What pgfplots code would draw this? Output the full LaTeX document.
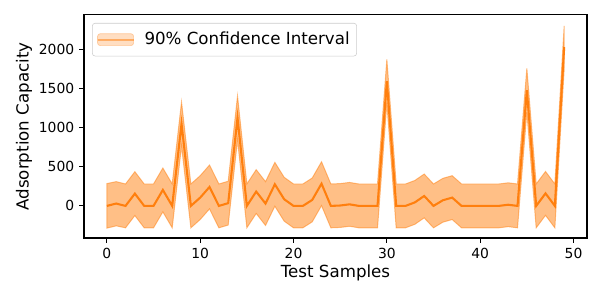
\documentclass[border=0pt]{standalone}
\usepackage{pgfplots}
\pgfplotsset{compat=1.18}
\usepackage{fontspec}
\setmainfont{DejaVu Sans}
\definecolor{mplorange}{RGB}{255,127,14}
\begin{document}
\begin{tikzpicture}
\begin{axis}[
  scale only axis,
  width=362.2pt, height=160.6pt,
  xmin=-2.45, xmax=51.45,
  ymin=-410, ymax=2440,
  xtick={0,10,20,30,40,50},
  ytick={0,500,1000,1500,2000},
  tick align=outside,
  major tick length=3.5pt,
  tick style={black, line width=0.8pt},
  axis line style={line width=0.8pt},
  xtick pos=bottom, ytick pos=left,
  /pgf/number format/assume math mode=true,
  /pgf/number format/1000 sep={},
  tick label style={font=\fontsize{10}{12}\selectfont},
  label style={font=\fontsize{12}{14}\selectfont},
  xlabel={Test Samples},
  ylabel={Adsorption Capacity},
  xlabel style={yshift=2pt},
  ylabel style={yshift=-2pt},
  legend style={at={(0.016,0.964)}, anchor=north west,
    draw=black!20, rounded corners=2pt, fill=white,
    font=\fontsize{12}{14}\selectfont, inner xsep=3pt, inner ysep=4.5pt},
  legend cell align=left,
]
% band: upper (0..49) then lower (49..0)
\addplot[fill=mplorange, fill opacity=0.5, draw=mplorange, draw opacity=0.5, line width=0.7pt,
  legend image code/.code={
    \fill[mplorange!50!white, draw=mplorange!70!white, line width=0.5pt] (0pt,-4.3pt) rectangle (26pt,4.3pt);
    \draw[mplorange, line width=1.5pt] (0pt,0pt) -- (26pt,0pt);
    \path (31.5pt,0pt);
  }] coordinates {
(0,285) (1,310) (2,280) (3,437) (4,280) (5,280) (6,484) (7,280) (8,1328) (9,280)
(10,386) (11,522) (12,280) (13,315) (14,1405) (15,280) (16,463) (17,310) (18,556) (19,365)
(20,280) (21,280) (22,356) (23,564) (24,280) (25,285) (26,300) (27,280) (28,280) (29,280)
(30,1872) (31,280) (32,280) (33,325) (34,407) (35,280) (36,352) (37,386) (38,280) (39,280)
(40,280) (41,280) (42,280) (43,295) (44,280) (45,1758) (46,280) (47,440) (48,280) (49,2300)
(49,1750) (48,-280) (47,-120) (46,-280) (45,1198) (44,-280) (43,-265) (42,-280) (41,-280) (40,-280)
(39,-280) (38,-280) (37,-174) (36,-208) (35,-280) (34,-153) (33,-235) (32,-280) (31,-280) (30,1312)
(29,-280) (28,-280) (27,-280) (26,-260) (25,-275) (24,-280) (23,4) (22,-204) (21,-280) (20,-280)
(19,-195) (18,-4) (17,-250) (16,-97) (15,-280) (14,845) (13,-245) (12,-280) (11,-38) (10,-174)
(9,-280) (8,768) (7,-280) (6,-76) (5,-280) (4,-280) (3,-123) (2,-280) (1,-255) (0,-284)
} -- cycle;
\addlegendentry{90\% Confidence Interval}
\addplot[mplorange, line width=1.5pt, forget plot] coordinates {
(0,0) (1,30) (2,0) (3,157) (4,0) (5,0) (6,204) (7,0) (8,1048) (9,0)
(10,106) (11,242) (12,0) (13,35) (14,1125) (15,0) (16,183) (17,30) (18,276) (19,85)
(20,0) (21,0) (22,76) (23,284) (24,0) (25,5) (26,20) (27,0) (28,0) (29,0)
(30,1592) (31,0) (32,0) (33,45) (34,127) (35,0) (36,72) (37,106) (38,0) (39,0)
(40,0) (41,0) (42,0) (43,15) (44,0) (45,1478) (46,0) (47,160) (48,0) (49,2030)
};
\end{axis}
\useasboundingbox (-60.48pt,-44.64pt) rectangle (371.52pt,171.36pt);
\end{tikzpicture}
\end{document}
